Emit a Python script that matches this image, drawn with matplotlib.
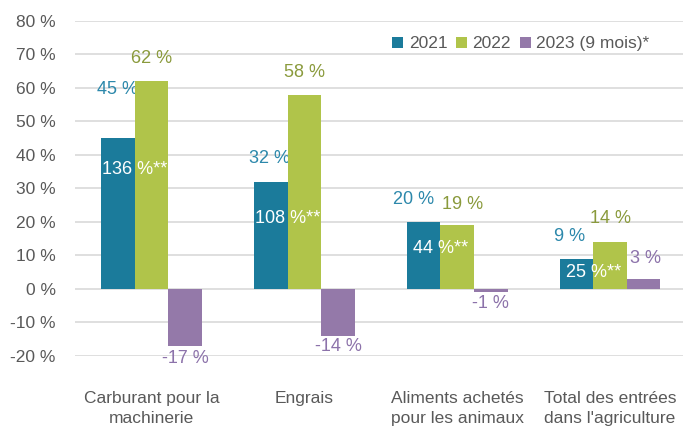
import numpy as np
import matplotlib.pyplot as plt

plt.rcParams["font.family"] = ["Liberation Sans", "DejaVu Sans"]

categories = [
    "Carburant pour la\nmachinerie",
    "Engrais",
    "Aliments achetés\npour les animaux",
    "Total des entrées\ndans l'agriculture",
]
series_names = ["2021", "2022", "2023 (9 mois)*"]
v2021 = [45, 32, 20, 9]
v2022 = [62, 58, 19, 14]
v2023 = [-17, -14, -1, 3]
change_2021_2023 = [136, 108, 44, 25]  # 2021 -> 2023 labels "**"

bar_colors = ["#1b7b9b", "#b0c44a", "#9479a9"]
text_colors = ["#2c88ab", "#8a9a3c", "#8c72aa"]
grey = "#595959"

# label offsets in points (dx, dy), per series then per category
label_offsets = [
    [(0, 35), (-1, 17), (-7, 16), (-5, 16)],
    [(0, 16), (0, 16), (4, 15), (0, 17)],
    [(0, -9), (0, -8), (0, -8), (1, 15)],
]
inner_y = [35.5, 21, 12, 5]

fig = plt.figure(figsize=(6.83, 4.33), dpi=100)
ax = fig.add_axes([0.11, 0.178, 0.895, 0.774])

x = np.arange(len(categories))
w = 0.22
for i, (vals, name) in enumerate(zip([v2021, v2022, v2023], series_names)):
    pos = x + (i - 1) * w
    ax.bar(pos, vals, w, color=bar_colors[i], label=name, zorder=3)
    for j, (p, v) in enumerate(zip(pos, vals)):
        ax.annotate(f"{v} %", (p, v), xytext=label_offsets[i][j], textcoords="offset points",
                    ha="center", va="center", fontsize=13, color=text_colors[i])

# white labels across the 2021/2022 bars
for j, c in enumerate(change_2021_2023):
    ax.text(x[j] - w / 2, inner_y[j], f"{c} %**", ha="center", va="center",
            fontsize=13, color="white", zorder=4)

ax.set_ylim(-20, 80)
ax.set_xlim(-0.5, len(categories) - 0.5)
ax.set_yticks(range(-20, 81, 10))
ax.set_yticklabels([f"{t} %" for t in range(-20, 81, 10)])
ax.set_xticks(x)
ax.set_xticklabels(categories, linespacing=1.45)
ax.tick_params(axis="both", length=0, labelsize=12.5, colors=grey)
ax.tick_params(axis="y", pad=14)
ax.tick_params(axis="x", pad=25)
ax.grid(axis="y", color="#d9d9d9", linewidth=1.2, zorder=0)
for s in ax.spines.values():
    s.set_visible(False)

ax.legend(loc="upper right", bbox_to_anchor=(0.965, 1.0), ncol=3, frameon=False,
          fontsize=12.5, handlelength=0.65, handleheight=0.65, handletextpad=0.3,
          columnspacing=0.5, labelcolor=grey)

fig.savefig("out.png", dpi=100)
